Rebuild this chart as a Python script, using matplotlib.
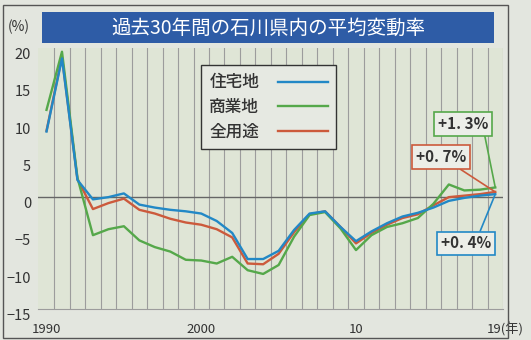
import matplotlib
matplotlib.use("Agg")
from matplotlib import pyplot as plt
from matplotlib.patches import Rectangle
import matplotlib.transforms as mtransforms

plt.rcParams['font.family'] = ['Noto Sans CJK JP', 'DejaVu Sans']

years = list(range(1990, 2020))

# 住宅地
residential = [8.8, 18.6, 2.3, -0.3, 0.0, 0.5, -1.0, -1.4, -1.7, -1.9,
               -2.2, -3.2, -4.8, -8.3, -8.3, -7.2, -4.4, -2.2, -1.9, -4.0,
               -5.9, -4.6, -3.5, -2.6, -2.1, -1.4, -0.5, -0.1, 0.2, 0.4]
# 商業地
commercial = [11.7, 19.5, 2.6, -5.1, -4.3, -3.9, -5.8, -6.7, -7.3, -8.4,
              -8.5, -8.9, -8.0, -9.8, -10.3, -9.1, -5.3, -2.4, -2.0, -4.2,
              -7.1, -5.1, -4.0, -3.5, -2.8, -0.9, 1.7, 0.9, 1.0, 1.3]
# 全用途
all_use = [8.9, 18.8, 2.4, -1.6, -0.8, -0.2, -1.7, -2.2, -2.9, -3.4,
           -3.7, -4.3, -5.4, -8.9, -9.0, -7.6, -4.7, -2.3, -1.9, -4.0,
           -6.2, -4.8, -3.7, -2.8, -2.3, -1.1, 0.0, 0.2, 0.4, 0.7]

series_names = ['住宅地', '商業地', '全用途']
end_labels = ['+0. 4%', '+1. 3%', '+0. 7%']

xtick_pos = [1990, 2000, 2010, 2019]
xtick_labels = ['1990', '2000', '10', '19(年)']
ytick_pos = [20, 15, 10, 5, 0, -5, -10, -15]

blue = '#2288c6'
green = '#55a84a'
red = '#cc5a3c'
paper = '#e3e6df'
ink = '#333333'

fig = plt.figure(figsize=(5.31, 3.4), dpi=100)
fig.patch.set_facecolor(paper)

# outer frame
fig.patches.append(Rectangle((3 / 531, 2 / 340), 505 / 531, 333 / 340,
                             transform=fig.transFigure, fill=False,
                             edgecolor='#555555', lw=1.0))
# title bar
fig.patches.append(Rectangle((42 / 531, 1 - 43 / 340), 452 / 531, 31 / 340,
                             transform=fig.transFigure, facecolor='#2e5ca6',
                             edgecolor='none'))
fig.text(268 / 531, 1 - 28 / 340, '過去30年間の石川県内の平均変動率',
         color='white', fontsize=14, ha='center', va='center')
fig.text(19 / 531, 1 - 27 / 340, '(%)', color=ink, fontsize=10,
         ha='center', va='center')

ax = fig.add_axes([38 / 531, 1 - 309 / 340, 465 / 531, 261 / 340])
ax.set_facecolor('#dfe5d6')
ax.set_xlim(1989.45, 2019.5)
ax.set_ylim(-15, 20)

for yr in years:
    ax.axvline(yr + 0.5, color='#9c9c9c', lw=0.8, zorder=1)
ax.axhline(0, color='#666666', lw=1.0, zorder=2)

for s in ['top', 'right', 'left']:
    ax.spines[s].set_visible(False)
ax.spines['bottom'].set_color('#9c9c9c')
ax.spines['bottom'].set_linewidth(0.8)

l_red, = ax.plot(years, all_use, color=red, lw=1.7, zorder=3)
l_green, = ax.plot(years, commercial, color=green, lw=1.7, zorder=4)
l_blue, = ax.plot(years, residential, color=blue, lw=1.7, zorder=5)

ax.set_xticks(xtick_pos)
ax.set_xticklabels(xtick_labels)
ax.set_yticks(ytick_pos)
ax.tick_params(axis='both', length=0, colors=ink)
ax.tick_params(axis='x', pad=10, labelsize=9.5)
ax.tick_params(axis='y', pad=5, labelsize=10.5)
xl = ax.get_xticklabels()
xl[-1].set_ha('left')
xl[-1].set_transform(xl[-1].get_transform() +
                     mtransforms.ScaledTranslation(-6 / 72, 0, fig.dpi_scale_trans))
off = mtransforms.ScaledTranslation(0, -4 / 72, fig.dpi_scale_trans)
for lbl in ax.get_yticklabels():
    lbl.set_transform(lbl.get_transform() + off)

leg = ax.legend([l_blue, l_green, l_red], series_names, markerfirst=False,
                loc='upper left', bbox_to_anchor=(201 / 531, 1 - 65 / 340),
                bbox_transform=fig.transFigure, borderaxespad=0,
                fontsize=12, handlelength=3.0, handletextpad=1.1,
                labelspacing=0.4, borderpad=0.5, fancybox=False,
                framealpha=1, facecolor='#e6e9e2', edgecolor=ink)
leg.get_frame().set_linewidth(1.0)
for t in leg.get_texts():
    t.set_color(ink)
    t.set_fontweight('medium')

# end-value callouts
callouts = [(residential[-1], blue, (2017.1, -6.2), (0.75, 1.0)),
            (commercial[-1], green, (2016.9, 9.85), (0.92, 0.0)),
            (all_use[-1], red, (2015.5, 5.4), (0.75, 0.0))]
for (val, col, txy, rp), lab in zip(callouts, end_labels):
    ax.annotate(lab, xy=(years[-1], val), xytext=txy, ha='center',
                va='center', fontsize=11, fontweight='bold', color=ink,
                bbox=dict(boxstyle='square,pad=0.25', fc='#eceee8',
                          ec=col, lw=1.2),
                arrowprops=dict(arrowstyle='-', color=col, lw=1.2,
                                relpos=rp, shrinkA=0, shrinkB=0),
                zorder=6)

fig.savefig('out.png', dpi=100, facecolor=fig.get_facecolor())
